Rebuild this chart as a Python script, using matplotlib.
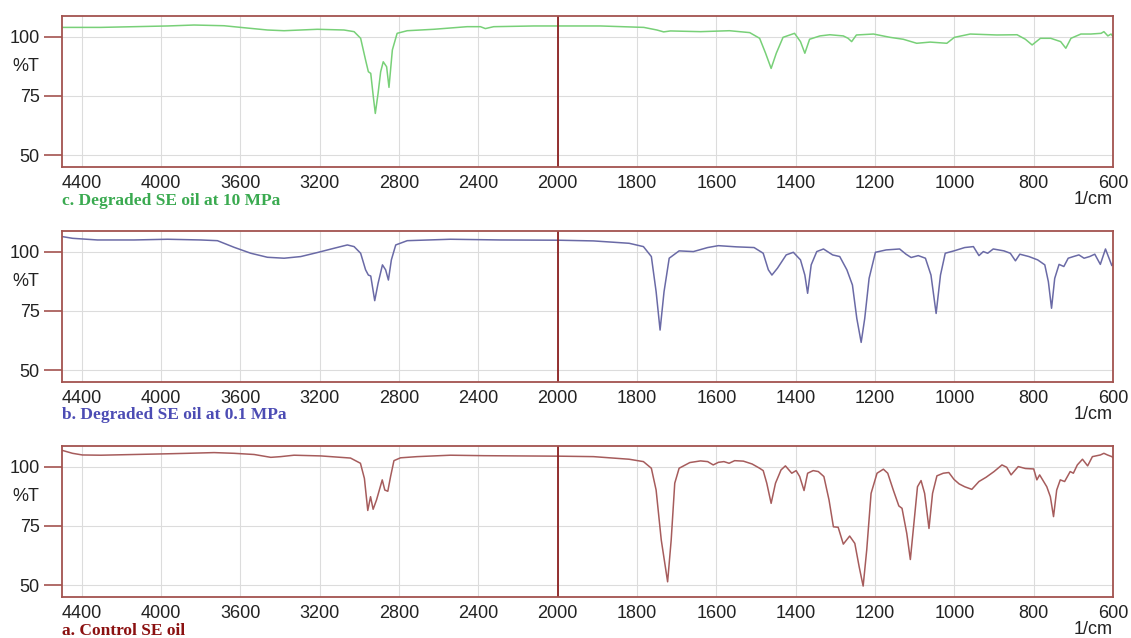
import numpy as np
import matplotlib
matplotlib.use("Agg")
import matplotlib.pyplot as plt
from matplotlib.ticker import FixedLocator
import matplotlib.transforms as mtransforms

control = [
    (4497, 106.8), (4447, 105.6), (4397, 104.9), (4304, 104.8), (4136, 105.1), (3968, 105.4),
    (3867, 105.6), (3733, 105.9), (3632, 105.6), (3531, 105.1), (3447, 103.9), (3397, 104.2),
    (3330, 104.8), (3195, 104.5), (3045, 103.6), (2995, 101.4), (2975, 95.0), (2958, 81.5),
    (2944, 87.3), (2931, 82.0), (2914, 85.9), (2885, 94.4), (2872, 90.1), (2857, 89.6),
    (2843, 95.8), (2826, 102.5), (2793, 103.7), (2709, 104.2), (2541, 104.8), (2373, 104.6),
    (2205, 104.5), (2000, 104.4), (1910, 104.2), (1820, 103.1), (1784, 102.1), (1764, 99.3),
    (1752, 90.1), (1739, 69.0), (1723, 51.4), (1714, 69.0), (1705, 93.0), (1694, 99.3),
    (1667, 101.7), (1640, 102.4), (1622, 102.1), (1608, 100.7), (1595, 101.8), (1581, 102.1),
    (1568, 101.4), (1554, 102.5), (1532, 102.3), (1510, 101.1), (1491, 99.3), (1482, 98.3),
    (1473, 93.0), (1462, 84.5), (1451, 93.0), (1437, 98.6), (1426, 100.3), (1410, 97.2),
    (1399, 98.3), (1390, 95.8), (1379, 89.9), (1370, 97.2), (1356, 98.3), (1343, 97.9),
    (1329, 95.8), (1316, 85.9), (1305, 74.6), (1293, 74.4), (1280, 67.3), (1264, 70.7),
    (1251, 67.6), (1240, 57.7), (1230, 49.6), (1221, 64.8), (1210, 88.7), (1195, 97.2),
    (1179, 98.9), (1168, 97.2), (1154, 90.1), (1140, 83.4), (1132, 82.4), (1120, 71.8),
    (1111, 60.8), (1102, 76.1), (1093, 91.5), (1084, 94.1), (1075, 88.7), (1064, 73.9),
    (1055, 88.7), (1044, 96.1), (1028, 97.2), (1014, 97.5), (1001, 94.6), (988, 92.7),
    (974, 91.5), (956, 90.4), (938, 93.7), (920, 95.5), (900, 97.9), (880, 100.7),
    (868, 99.7), (857, 96.5), (839, 100.0), (821, 99.2), (800, 99.0), (792, 94.4),
    (785, 96.5), (767, 91.5), (758, 87.3), (750, 78.9), (742, 90.1), (733, 94.4),
    (722, 93.7), (708, 97.9), (700, 97.2), (690, 100.7), (677, 103.1), (664, 100.3),
    (652, 104.2), (632, 104.9), (623, 105.6), (614, 104.9), (603, 104.2), (600, 103.8),
]

degraded_01 = [
    (4497, 106.3), (4447, 105.6), (4321, 104.9), (4136, 104.9), (3968, 105.2), (3800, 104.9),
    (3716, 104.6), (3632, 101.8), (3548, 99.3), (3464, 97.6), (3380, 97.2), (3296, 97.9),
    (3212, 99.6), (3128, 101.4), (3061, 102.8), (3027, 102.1), (2994, 99.3), (2969, 92.3),
    (2955, 90.1), (2943, 89.7), (2923, 79.3), (2906, 86.6), (2884, 94.4), (2868, 92.3),
    (2854, 88.0), (2839, 96.5), (2817, 102.8), (2759, 104.6), (2541, 105.2), (2289, 104.9),
    (2000, 104.8), (1910, 104.5), (1820, 103.5), (1784, 102.1), (1764, 97.9), (1752, 83.1),
    (1742, 66.9), (1732, 83.1), (1719, 97.2), (1694, 100.3), (1658, 100.0), (1622, 101.7),
    (1595, 102.5), (1550, 102.0), (1505, 101.7), (1482, 99.3), (1469, 92.3), (1460, 90.1),
    (1446, 93.0), (1424, 98.6), (1406, 99.7), (1388, 96.5), (1377, 90.1), (1370, 82.4),
    (1361, 94.4), (1347, 100.0), (1330, 101.1), (1307, 98.6), (1289, 97.9), (1271, 92.3),
    (1257, 85.9), (1246, 71.8), (1235, 61.7), (1226, 71.8), (1215, 88.7), (1199, 99.7),
    (1172, 100.7), (1138, 101.1), (1122, 98.9), (1109, 97.5), (1091, 98.3), (1073, 97.2),
    (1059, 90.1), (1046, 73.9), (1035, 90.1), (1023, 99.3), (1001, 100.3), (974, 101.7),
    (952, 102.1), (938, 98.3), (927, 100.0), (916, 99.3), (902, 101.1), (875, 100.3),
    (859, 99.3), (846, 96.1), (835, 98.9), (812, 97.9), (790, 96.5), (772, 94.4),
    (763, 87.3), (755, 76.1), (747, 88.7), (736, 94.6), (724, 93.7), (713, 97.2),
    (700, 97.9), (686, 98.6), (673, 97.2), (659, 97.9), (646, 98.9), (632, 94.6),
    (619, 101.1), (603, 94.1), (600, 95.0),
]

degraded_10 = [
    (4497, 103.9), (4304, 103.9), (4136, 104.2), (3968, 104.5), (3834, 104.9), (3683, 104.6),
    (3599, 103.9), (3464, 102.8), (3380, 102.5), (3212, 103.1), (3078, 102.8), (3027, 102.1),
    (2994, 99.3), (2969, 90.1), (2955, 85.2), (2943, 84.5), (2930, 74.6), (2920, 67.6),
    (2906, 76.1), (2893, 85.2), (2880, 89.4), (2863, 87.3), (2851, 78.6), (2834, 94.4),
    (2810, 101.4), (2759, 102.5), (2625, 103.1), (2457, 104.2), (2390, 104.2), (2365, 103.4),
    (2323, 104.2), (2121, 104.5), (2000, 104.5), (1892, 104.5), (1783, 103.9), (1750, 102.8),
    (1733, 102.0), (1716, 102.4), (1640, 102.1), (1567, 102.5), (1516, 101.7), (1491, 99.3),
    (1476, 93.0), (1462, 86.6), (1449, 93.0), (1432, 99.7), (1403, 101.4), (1388, 97.9),
    (1377, 93.0), (1365, 98.9), (1339, 100.3), (1314, 100.8), (1280, 100.3), (1268, 99.3),
    (1259, 97.9), (1247, 100.7), (1204, 101.1), (1162, 99.7), (1129, 98.9), (1095, 97.2),
    (1061, 97.7), (1019, 97.2), (1000, 99.7), (960, 101.1), (893, 100.7), (842, 100.8),
    (821, 98.9), (804, 96.5), (783, 99.3), (757, 99.3), (732, 97.9), (719, 95.1),
    (706, 99.3), (681, 101.1), (656, 101.1), (630, 101.4), (623, 102.1), (613, 100.3),
    (605, 101.1), (600, 100.0),
]

x_ticks = [4400, 4000, 3600, 3200, 2800, 2400, 2000, 1800, 1600, 1400, 1200, 1000, 800, 600]
y_ticks = [50, 75, 100]

panels = [
    (degraded_10, "c. Degraded SE oil at 10 MPa", "#78d078", "#3aaa50"),
    (degraded_01, "b. Degraded SE oil at 0.1 MPa", "#6a6aa6", "#4c4cb4"),
    (control, "a. Control SE oil", "#a65c5c", "#8b1010"),
]
bottoms = [0.7382, 0.4013, 0.0643]

frame = "#a3534f"
split = "#8b2020"


# above 2000 1/cm the scale is compressed 2x
def fwd(w):
    w = np.asarray(w, dtype=float)
    return np.where(w > 2000, 2000 + (w - 2000) / 2, w)


def inv(u):
    u = np.asarray(u, dtype=float)
    return np.where(u > 2000, 2000 + (u - 2000) * 2, u)


fig = plt.figure(figsize=(11.31, 6.38), dpi=100)

for (data, caption, lc, cc), b in zip(panels, bottoms):
    ax = fig.add_axes([0.0548, b, 0.9293, 0.2367])
    wn, tr = np.array(data).T
    ax.plot(wn, tr, color=lc, lw=1.1)
    ax.set_xscale("function", functions=(fwd, inv))
    ax.set_xlim(4500, 600)
    ax.set_ylim(45, 108.7)
    ax.xaxis.set_major_locator(FixedLocator(x_ticks))
    ax.yaxis.set_major_locator(FixedLocator(y_ticks))
    ax.xaxis.set_minor_locator(FixedLocator([]))
    ax.set_xticklabels([str(t) for t in x_ticks])
    ax.grid(True, color="#dcdcdc", lw=0.8)
    ax.set_axisbelow(True)
    ax.axvline(2000, color=split, lw=1.3)
    for s in ax.spines.values():
        s.set_color(frame)
        s.set_linewidth(1.3)
    ax.tick_params(axis="x", length=0, pad=6, labelsize=13, labelcolor="#222222")
    ax.tick_params(axis="y", length=13, width=1.2, color=frame, pad=3,
                   labelsize=13, labelcolor="#222222")
    for lab in ax.get_xticklabels() + ax.get_yticklabels():
        lab.set_fontfamily("Liberation Sans")

    trans = mtransforms.blended_transform_factory(ax.transAxes, ax.transData)
    ax.text(-0.034, 87.5, "%T", transform=trans, ha="center", va="center",
            fontsize=13, family="Liberation Sans", color="#222222")
    ax.text(1.0, -0.218, "1/cm", transform=ax.transAxes, ha="right", va="center",
            fontsize=13, family="Liberation Sans", color="#222222")
    ax.text(0.0, -0.222, caption, transform=ax.transAxes, ha="left", va="center",
            fontsize=12.5, family="Liberation Serif", fontweight="bold", color=cc)

fig.savefig("out.png", dpi=100)
